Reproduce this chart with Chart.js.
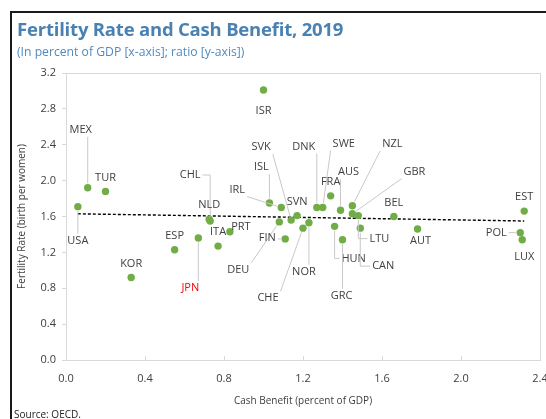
<!DOCTYPE html>
<html>
<head>
<meta charset="utf-8">
<script src="https://cdn.jsdelivr.net/npm/chart.js@4"></script>
<style>
  html, body { margin: 0; padding: 0; background: #fff; }
  #wrap { position: relative; width: 546px; height: 419px; overflow: hidden; font-family: "Open Sans", sans-serif; }
  #frame { position: absolute; left: 10px; top: 11px; width: 600px; height: 500px; border-left: 2px solid #1a1a1a; border-top: 2px solid #1a1a1a; }
  #title { position: absolute; left: 17px; top: 16px; font-size: 18.5px; font-weight: 700; color: #4a81b3; letter-spacing: -0.2px; white-space: nowrap; }
  #subtitle { position: absolute; left: 17px; top: 43px; font-size: 12.2px; color: #4f8bc0; white-space: nowrap; }
  #source { position: absolute; left: 14px; top: 407px; font-size: 10px; color: #222; white-space: nowrap; }
  canvas { position: absolute; left: 0; top: 0; }
</style>
</head>
<body>
<div id="wrap">
  <div id="frame"></div>
  <canvas id="scatterChart" width="546" height="419"></canvas>
  <div id="title">Fertility Rate and Cash Benefit, 2019</div>
  <div id="subtitle">(In percent of GDP [x-axis]; ratio [y-axis])</div>
  <div id="source">Source: OECD.</div>
</div>
<script>
// data
const countries = ["MEX", "TUR", "USA", "KOR", "ESP", "JPN", "CHL", "NLD", "ITA", "PRT",
  "ISR", "ISL", "IRL", "SVK", "SVN", "DEU", "FIN", "CHE", "NOR", "DNK",
  "SWE", "FRA", "AUS", "NZL", "GBR", "HUN", "GRC", "LTU", "CAN", "BEL",
  "AUT", "EST", "POL", "LUX"];
const cashBenefit = [0.11, 0.20, 0.06, 0.33, 0.55, 0.67, 0.73, 0.725, 0.77, 0.83,
  1.00, 1.03, 1.09, 1.14, 1.17, 1.08, 1.11, 1.20, 1.23, 1.27,
  1.30, 1.34, 1.39, 1.45, 1.45, 1.36, 1.40, 1.48, 1.49, 1.66,
  1.78, 2.32, 2.30, 2.31];
const fertility = [1.92, 1.88, 1.71, 0.92, 1.23, 1.36, 1.55, 1.57, 1.27, 1.43,
  3.01, 1.75, 1.70, 1.56, 1.61, 1.54, 1.35, 1.47, 1.53, 1.70,
  1.70, 1.83, 1.67, 1.72, 1.63, 1.49, 1.34, 1.61, 1.47, 1.60,
  1.46, 1.66, 1.42, 1.34];
const trendX = [0.06, 2.32];
const trendY = [1.63, 1.55];
const xTicks = [0.0, 0.4, 0.8, 1.2, 1.6, 2.0, 2.4];
const yTicks = [0.0, 0.4, 0.8, 1.2, 1.6, 2.0, 2.4, 2.8, 3.2];

// label placement (pixel offset from the dot, leader type)
const labelLayout = {
  MEX: [-7, -58, "line"], TUR: [0, -14, "none"], USA: [0, 34, "line"],
  KOR: [0, -14, "none"], ESP: [0, -14, "none"], JPN: [-8, 50, "line"],
  CHL: [-20, -46, "elbow"], NLD: [0, -14, "none"], ITA: [0, -14, "none"],
  PRT: [11, -5, "none"], ISR: [0, 21, "none"], ISL: [-8, -36, "line"],
  IRL: [-44, -18, "line"], SVK: [-30, -73, "line"], SVN: [0, -14, "none"],
  DEU: [-41, 48, "line"], FIN: [-18, -1, "line"], CHE: [-35, 70, "line"],
  NOR: [-5, 49, "line"], DNK: [-13, -61, "line"], SWE: [21, -64, "line"],
  FRA: [0, -14, "none"], AUS: [8, -38, "line"], NZL: [40, -62, "line"],
  GBR: [62, -42, "line"], HUN: [19, 32, "elbow"], GRC: [-1, 56, "line"],
  LTU: [21, 23, "elbow"], CAN: [23, 38, "elbow"], BEL: [0, -14, "none"],
  AUT: [3, 12, "none"], EST: [0, -14, "none"], POL: [-24, 0, "line"],
  LUX: [2, 17, "none"]
};
const highlight = { JPN: "#ff0000" };

const points = countries.map((c, i) => ({ x: cashBenefit[i], y: fertility[i] }));
const trend = trendX.map((x, i) => ({ x: x, y: trendY[i] }));

const frameAndLabels = {
  id: "frameAndLabels",
  beforeDatasetsDraw(chart) {
    const { ctx, chartArea: a, scales } = chart;
    ctx.save();
    ctx.strokeStyle = "#d9d9d9";
    ctx.lineWidth = 1;
    ctx.strokeRect(a.left + 0.5, a.top + 0.5, a.right - a.left, a.bottom - a.top);
    ctx.beginPath();
    xTicks.forEach((v) => {
      const x = Math.round(scales.x.getPixelForValue(v)) + 0.5;
      ctx.moveTo(x, a.bottom);
      ctx.lineTo(x, a.bottom - 4);
    });
    ctx.stroke();
    ctx.restore();
  },
  afterDatasetsDraw(chart) {
    const { ctx } = chart;
    const meta = chart.getDatasetMeta(0);
    const r = 4.5;
    ctx.save();
    ctx.font = "11px 'Open Sans'";
    ctx.textAlign = "center";
    ctx.textBaseline = "middle";
    meta.data.forEach((el, i) => {
      const name = countries[i];
      const [dx, dy, leader] = labelLayout[name];
      const cx = el.x + dx, cy = el.y + dy;
      const w = ctx.measureText(name).width;
      const x1 = cx - w / 2 - 2, x2 = cx + w / 2 + 2;
      const y1 = cy - 7, y2 = cy + 7;
      ctx.strokeStyle = "#c8c8c8";
      ctx.lineWidth = 1;
      if (leader === "line") {
        const sx = Math.min(Math.max(el.x, x1), x2);
        const sy = Math.min(Math.max(el.y, y1), y2);
        const len = Math.hypot(el.x - sx, el.y - sy);
        if (len > r + 1) {
          const ex = el.x - (el.x - sx) / len * r;
          const ey = el.y - (el.y - sy) / len * r;
          ctx.beginPath();
          ctx.moveTo(sx, sy);
          ctx.lineTo(ex, ey);
          ctx.stroke();
        }
      } else if (leader === "elbow") {
        const sx = el.x < cx ? x1 : x2;
        const ey = el.y + (cy > el.y ? r : -r);
        ctx.beginPath();
        ctx.moveTo(sx, cy);
        ctx.lineTo(el.x, cy);
        ctx.lineTo(el.x, ey);
        ctx.stroke();
      }
      ctx.fillStyle = highlight[name] || "#404040";
      ctx.fillText(name, cx, cy);
    });
    ctx.restore();
  }
};

const scatterChart = document.getElementById("scatterChart");

new Chart(scatterChart, {
  type: "scatter",
  data: {
    datasets: [
      {
        label: "Countries",
        data: points,
        backgroundColor: "#70ad47",
        borderWidth: 0,
        pointRadius: 3.7,
        order: 1,
      },
      {
        label: "Trend",
        data: trend,
        showLine: true,
        borderColor: "#000000",
        borderWidth: 1.4,
        borderDash: [3, 2],
        pointRadius: 0,
        order: 2,
      },
    ],
  },
  options: {
    responsive: false,
    animation: false,
    layout: { padding: { left: 0, right: 6, top: 73, bottom: 0 } },
    plugins: {
      legend: { display: false },
      tooltip: { enabled: false },
    },
    scales: {
      x: {
        type: "linear",
        min: 0,
        max: 2.4,
        afterBuildTicks: (s) => { s.ticks = xTicks.map((v) => ({ value: v })); },
        afterFit: (s) => { s.height = 59; s.paddingLeft = 0; s.paddingRight = 0; },
        ticks: {
          callback: (v) => v.toFixed(1),
          color: "#404040",
          font: { family: "Open Sans", size: 11 },
          padding: 12,
          maxRotation: 0,
        },
        grid: { display: false, drawTicks: false },
        border: { display: false },
        title: {
          display: true,
          text: "Cash Benefit (percent of GDP)",
          color: "#404040",
          font: { family: "Open Sans", size: 10 },
          padding: { top: 0, bottom: 12 },
        },
      },
      y: {
        type: "linear",
        min: 0,
        max: 3.2,
        afterBuildTicks: (s) => { s.ticks = yTicks.map((v) => ({ value: v })); },
        afterFit: (s) => { s.width = 66; },
        ticks: {
          callback: (v) => v.toFixed(1),
          color: "#404040",
          font: { family: "Open Sans", size: 11 },
          padding: 6,
        },
        grid: { drawOnChartArea: false, drawTicks: true, tickLength: 4, color: "#d9d9d9" },
        border: { display: false },
        title: {
          display: true,
          text: "Fertility Rate (birth per women)",
          color: "#404040",
          font: { family: "Open Sans", size: 10 },
          padding: { top: 16, bottom: 0 },
        },
      },
    },
  },
  plugins: [frameAndLabels],
});
</script>
</body>
</html>
